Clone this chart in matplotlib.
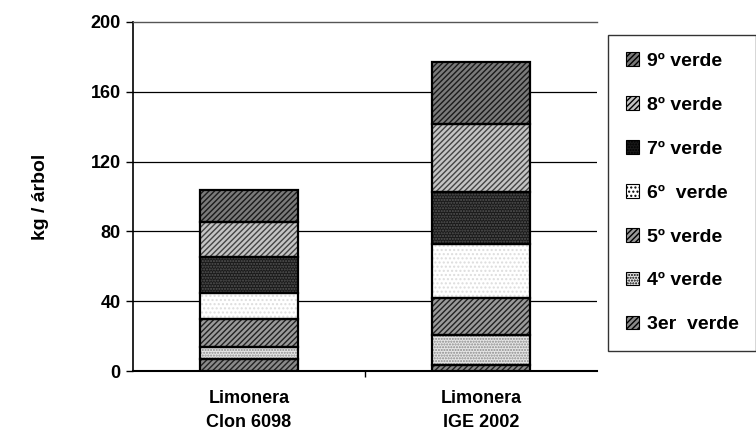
import matplotlib
matplotlib.use("Agg")
import matplotlib.pyplot as plt
from matplotlib.patches import Patch
import numpy as np

plt.rcParams['font.family'] = ['Liberation Sans', 'DejaVu Sans']
plt.rcParams['font.weight'] = 'bold'
plt.rcParams['hatch.linewidth'] = 1.0

categories = ["Limonera\nClon 6098", "Limonera\nIGE 2002"]
series = ["3er  verde", "4º verde", "5º verde", "6º  verde", "7º verde", "8º verde", "9º verde"]
v3 = [7.0, 3.5]
v4 = [6.5, 17.0]
v5 = [16.5, 21.5]
v6 = [14.5, 31.0]
v7 = [21.0, 29.5]
v8 = [20.0, 39.0]
v9 = [18.0, 35.5]
values = [v3, v4, v5, v6, v7, v8, v9]
yticks = [0, 40, 80, 120, 160, 200]

styles = [
    dict(face="#8a8a8a", hatch="//////", hc="#222222"),
    dict(face="#e6e6e6", hatch="......", hc="#8a8a8a"),
    dict(face="#9a9a9a", hatch="//////", hc="#222222"),
    dict(face="#ffffff", hatch="....", hc="#dddddd"),
    dict(face="#1a1a1a", hatch="......", hc="#555555"),
    dict(face="#c4c4c4", hatch="//////", hc="#444444"),
    dict(face="#7a7a7a", hatch="//////", hc="#1a1a1a"),
]

fig = plt.figure(figsize=(7.56, 4.44), dpi=100)
ax = fig.add_axes([133/756, 1-371/444, (597-133)/756, (371-22)/444])

x = np.arange(len(categories))
width = 0.42
bottom = np.zeros(len(categories))
for vals, st in zip(values, styles):
    vals = np.array(vals)
    ax.bar(x, vals, width, bottom=bottom, color=st["face"], hatch=st["hatch"],
           edgecolor=st["hc"], linewidth=0, zorder=3)
    ax.bar(x, vals, width, bottom=bottom, fill=False, edgecolor="black",
           linewidth=1.6, zorder=4)
    bottom += vals

ax.set_xlim(-0.5, 1.5)
ax.set_ylim(0, 200)
ax.set_yticks(yticks)
ax.set_yticklabels([str(t) for t in yticks], fontsize=13, fontweight='bold')
ax.set_xticks(x)
ax.set_xticklabels(categories, fontsize=13, fontweight='bold', linespacing=1.5)
ax.tick_params(axis='x', length=0, pad=14)
ax.set_xticks([0.5], minor=True)
ax.tick_params(axis='x', which='minor', length=4, width=1, direction='out')
ax.tick_params(axis='y', length=5, width=1, direction='out', pad=4)
for t in [40, 80, 120, 160]:
    ax.axhline(t, color="black", linewidth=0.9, zorder=1)
ax.spines['right'].set_visible(False)
ax.spines['top'].set_linestyle((0, (3, 1)))
ax.spines['top'].set_color("#555555")
ax.spines['top'].set_linewidth(1.0)
ax.spines['left'].set_linewidth(1.2)
ax.spines['bottom'].set_linewidth(1.5)
ax.set_ylabel("kg / árbol", fontsize=14, fontweight='bold', labelpad=30)

handles = [Patch(facecolor=st["face"], hatch=st["hatch"], edgecolor="black", linewidth=0.8)
           for st in styles]
leg = fig.legend(handles[::-1], series[::-1], loc="upper left",
                 bbox_to_anchor=(608/756, 1-35/444), frameon=True, fancybox=False,
                 prop=dict(size=14, weight='bold'), handlelength=0.7, handleheight=0.7,
                 handletextpad=0.4, labelspacing=1.35, borderpad=0.9, borderaxespad=0)
leg.get_frame().set_edgecolor("black")
leg.get_frame().set_linewidth(1.0)

fig.savefig("out.png", dpi=100)
